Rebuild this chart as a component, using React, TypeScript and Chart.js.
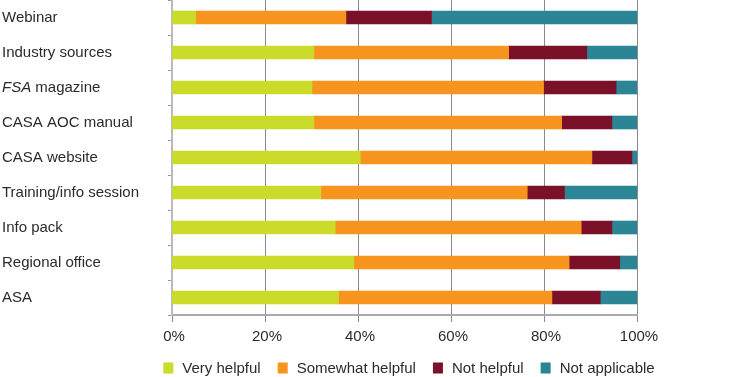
import React, { useEffect, useRef } from "react";
import { Chart, registerables } from "chart.js";

Chart.register(...registerables);

const categories = [
  "Webinar",
  "Industry sources",
  "FSA magazine",
  "CASA AOC manual",
  "CASA website",
  "Training/info session",
  "Info pack",
  "Regional office",
  "ASA",
];
const italicWords = ["FSA"];

const veryHelpful = [5.1, 30.5, 30.1, 30.5, 40.5, 32.0, 35.1, 39.1, 35.8];
const somewhatHelpful = [32.3, 41.9, 49.8, 53.3, 49.8, 44.4, 52.9, 46.3, 45.9];
const notHelpful = [18.4, 16.8, 15.6, 10.8, 8.6, 8.0, 6.6, 10.9, 10.4];
const notApplicable = [44.2, 10.8, 4.5, 5.4, 1.1, 15.6, 5.4, 3.7, 7.9];

const seriesNames = ["Very helpful", "Somewhat helpful", "Not helpful", "Not applicable"];
const seriesColors = ["#CBDB2A", "#F7941E", "#7A1128", "#2C8595"];

const FONT = "'Liberation Sans', Arial, sans-serif";
const TEXT = "#2b2b2b";

const labelPlugin = {
  id: "catLabels",
  afterDraw(chart: any) {
    const ctx = chart.ctx;
    const y = chart.scales.y;
    const area = chart.chartArea;
    ctx.save();
    ctx.fillStyle = TEXT;
    ctx.textBaseline = "middle";
    ctx.textAlign = "left";
    categories.forEach((label, i) => {
      const py = y.getPixelForValue(i);
      let x = 2;
      const parts = label.split(" ");
      parts.forEach((w, j) => {
        const italic = italicWords.includes(w);
        ctx.font = (italic ? "italic " : "") + "15px " + FONT;
        const t = j < parts.length - 1 ? w + " " : w;
        ctx.fillText(t, x, py);
        x += ctx.measureText(t).width;
      });
    });

    // legend
    ctx.font = "15px " + FONT;
    const boxW = 10;
    const boxH = 11;
    const gap = 9;
    const itemGap = 17;
    const widths = seriesNames.map((n) => ctx.measureText(n).width);
    const total =
      widths.reduce((a, b) => a + b, 0) + seriesNames.length * (boxW + gap) + (seriesNames.length - 1) * itemGap;
    let lx = (area.left + area.right) / 2 + 4.5 - total / 2;
    const ly = chart.height - 9;
    seriesNames.forEach((n, i) => {
      ctx.fillStyle = seriesColors[i];
      ctx.fillRect(lx, ly - boxH / 2, boxW, boxH);
      lx += boxW + gap;
      ctx.fillStyle = TEXT;
      ctx.fillText(n, lx, ly + 0.5);
      lx += widths[i] + itemGap;
    });
    ctx.restore();
  },
};

export default function App() {
  const ref = useRef<HTMLCanvasElement>(null);
  useEffect(() => {
    if (!ref.current) return;
    const data = [veryHelpful, somewhatHelpful, notHelpful, notApplicable];
    const chart = new Chart(ref.current, {
      type: "bar",
      data: {
        labels: categories,
        datasets: data.map((d, i) => ({
          label: seriesNames[i],
          data: d,
          backgroundColor: seriesColors[i],
          borderWidth: 0,
          barThickness: 13,
        })),
      },
      plugins: [labelPlugin],
      options: {
        indexAxis: "y",
        animation: false,
        responsive: false,
        maintainAspectRatio: false,
        layout: { padding: { left: 0, right: 108, top: -1, bottom: 25 } },
        scales: {
          x: {
            stacked: true,
            min: 0,
            max: 100,
            ticks: {
              stepSize: 20,
              callback: (v: any) => v + "%",
              color: TEXT,
              font: { family: FONT, size: 15 },
              padding: 6,
              labelOffset: 2,
            },
            grid: { color: "#8a8a8a", lineWidth: 1, tickLength: 7 },
            border: { color: "#aaaaaa", width: 2 },
          },
          y: {
            stacked: true,
            ticks: { display: false },
            grid: { offset: true, drawOnChartArea: false, tickLength: 4, color: "#999" },
            border: { color: "#bbbbbb", width: 2 },
            afterFit: (s: any) => {
              s.width = 172;
            },
          },
        },
        plugins: {
          tooltip: { enabled: false },
          legend: { display: false },
        },
      },
    });
    return () => chart.destroy();
  }, []);
  return (
    <div style={{ position: "fixed", left: 0, top: 0, width: 745, height: 377, background: "#fff" }}>
      <canvas ref={ref} width={745} height={377} />
    </div>
  );
}
